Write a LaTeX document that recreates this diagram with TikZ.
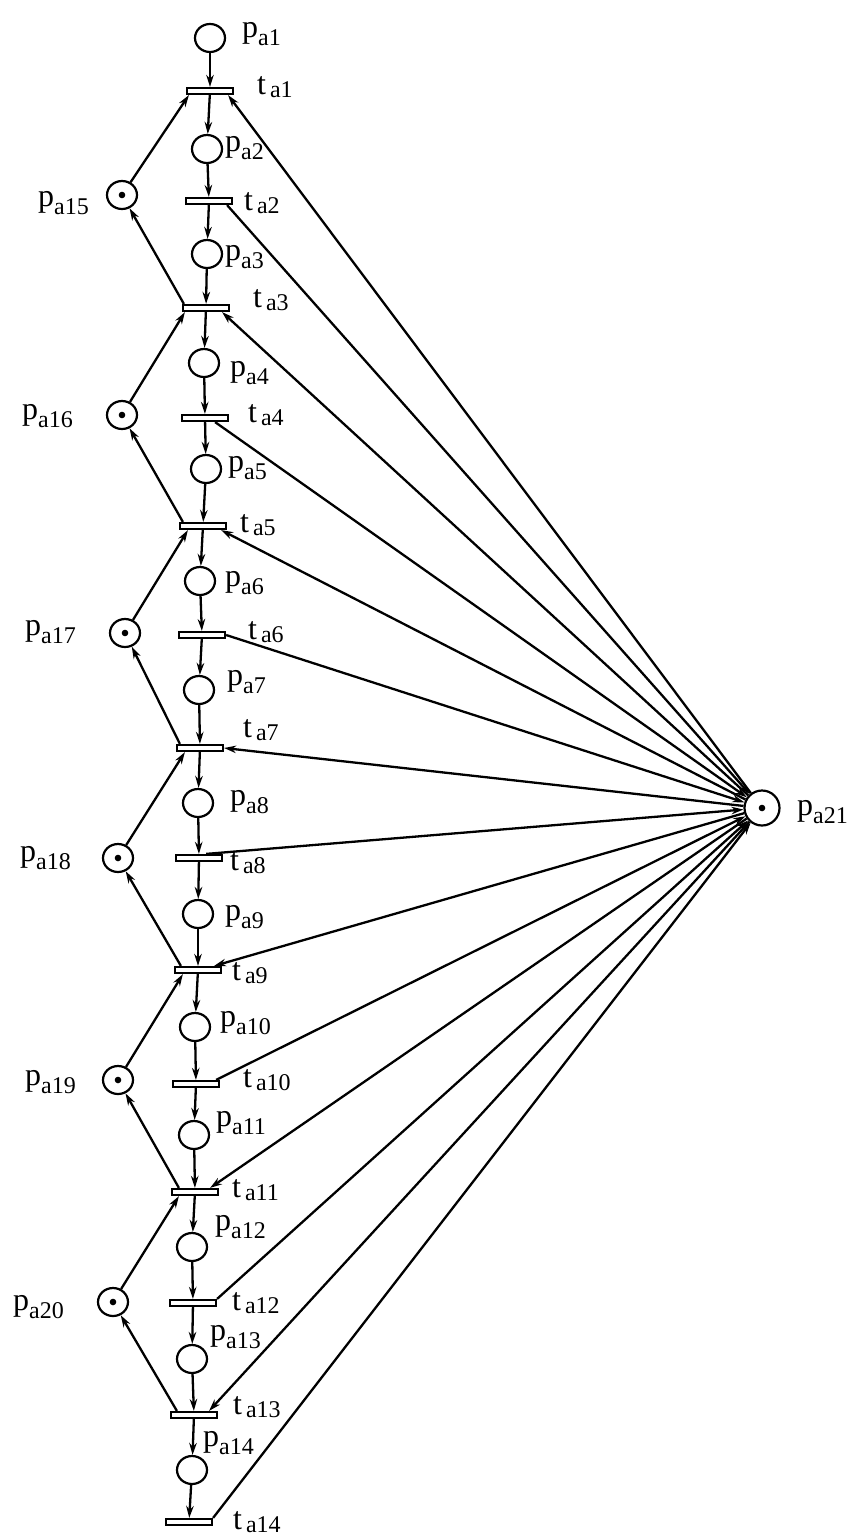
\documentclass[tikz,border=0pt]{standalone}
\usepackage{fontspec}
\setmainfont{Liberation Serif}
\usetikzlibrary{arrows.meta,shapes.geometric}
\newcommand\plab[1]{{\fontsize{32}{32}\selectfont p}\raisebox{-8pt}{\fontsize{24}{24}\selectfont #1}}
\newcommand\tlab[1]{{\fontsize{32}{32}\selectfont t}\kern4pt\raisebox{-3pt}{\fontsize{24}{24}\selectfont #1}}
\tikzset{
  place/.style={ellipse,draw,line width=2.2pt,minimum width=30pt,minimum height=28pt,inner sep=0pt,fill=white},
  trans/.style={rectangle,draw,line width=2.2pt,minimum width=46pt,minimum height=6pt,inner sep=0pt,fill=white},
  lab/.style={anchor=base west,inner sep=0pt},
  arr/.style={line width=2.3pt,-{Stealth[length=12pt,width=7.5pt]}}
}
\begin{document}
\begin{tikzpicture}[x=1pt,y=-1pt]
\useasboundingbox (0,0) rectangle (853,1540);
% places of the chain
\foreach \i/\x/\y in {1/210/38,2/207/149,3/207/254,4/204/363,5/206/469,6/200/581,7/199/690,8/198/803,9/198/914,10/195/1027,11/194/1135,12/192/1247,13/192/1359,14/192/1470}
  \node[place] (p\i) at (\x,\y) {};
% side places
\foreach \i/\x/\y in {15/122/195,16/122/415,17/125/633,18/118/858,19/118/1080,20/113/1302}
  \node[place] (p\i) at (\x,\y) {};
\node[place,minimum width=35pt,minimum height=35pt] (p21) at (762,808) {};
% tokens
\foreach \i in {15,...,21} \fill (p\i.center) circle (3.3pt);
% transitions
\foreach \i/\x/\y in {1/210/91,2/209/201,3/206/308,4/205/418,5/203/526,6/202/635,7/200/748,8/199/858,9/198/970,10/196/1084,11/195/1192,12/193/1303,13/194/1415,14/189/1522}
  \node[trans] (t\i) at (\x,\y) {};
% chain arcs
\foreach \i in {1,...,14} \draw[arr] (p\i) -- (t\i);
\foreach \i [evaluate=\i as \j using int(\i+1)] in {1,...,13} \draw[arr] (t\i) -- (p\j);
% side places
\draw[arr] (p15) -- ([xshift=3pt]t1.south west);
\draw[arr] ([xshift=2pt]t3.north west) -- (p15);
\draw[arr] (p16) -- ([xshift=3pt]t3.south west);
\draw[arr] ([xshift=4pt]t5.north west) -- (p16);
\draw[arr] (p17) -- ([xshift=9pt]t5.south west);
\draw[arr] ([xshift=4pt]t7.north west) -- (p17);
\draw[arr] (p18) -- ([xshift=9pt]t7.south west);
\draw[arr] ([xshift=7pt]t9.north west) -- (p18);
\draw[arr] (p19) -- ([xshift=9pt]t9.south west);
\draw[arr] ([xshift=8pt]t11.north west) -- (p19);
\draw[arr] (p20) -- ([xshift=8pt]t11.south west);
\draw[arr] ([xshift=7pt]t13.north west) -- (p20);
% arcs with p_a21
\draw[arr] (p21) -- ([xshift=-6pt]t1.south east);
\draw[arr] ([xshift=-6pt]t2.south east) -- (p21);
\draw[arr] (p21) -- ([xshift=-8pt]t3.south east);
\draw[arr] ([xshift=-14pt]t4.south east) -- (p21);
\draw[arr] (p21) -- ([xshift=-6pt]t5.south east);
\draw[arr] (t6.east) -- (p21);
\draw[arr] (p21) -- (t7.east);
\draw[arr] ([xshift=-17pt]t8.north east) -- (p21);
\draw[arr] (p21) -- ([xshift=-8pt]t9.north east);
\draw[arr] ([xshift=-4pt]t10.north east) -- (p21);
\draw[arr] (p21) -- ([xshift=-9pt]t11.north east);
\draw[arr] (t12.north east) -- (p21);
\draw[arr] (p21) -- ([xshift=-9pt]t13.north east);
\draw[arr] (t14.north east) -- (p21);
% place labels
\foreach \i/\x/\y in {1/242/37,2/225/151,3/225/260,4/230/376,5/228/471,6/225/586,7/227/685,8/230/805,9/225/920,10/220/1026,11/216/1126,12/215/1230,13/210/1340,14/203/1446,15/38/206,16/22/419,17/25/635,18/20/861,19/25/1085,20/13/1310,21/797/815}
  \node[lab] (lp\i) at (\x,\y) {\plab{a\i}};
% transition labels
\foreach \i/\x/\y in {1/257/94,2/244/210,3/253/307,4/248/422,5/240/532,6/248/639,7/243/737,8/230/870,9/232/980,10/243/1087,11/232/1197,12/232/1310,13/233/1414,14/233/1529}
  \node[lab] (lt\i) at (\x,\y) {\tlab{a\i}};
\end{tikzpicture}
\end{document}
